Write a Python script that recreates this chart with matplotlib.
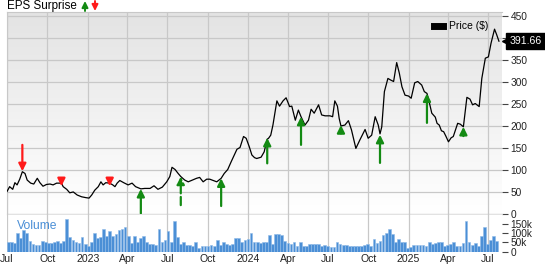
import matplotlib
matplotlib.use('Agg')
import matplotlib.pyplot as plt
import matplotlib.dates as mdates
import numpy as np
import pandas as pd

plt.rcParams['font.family'] = ['Liberation Sans', 'DejaVu Sans']

# price line
price_dates = [
    '2022-07-01', '2022-07-07', '2022-07-14', '2022-07-19', '2022-07-24', '2022-07-30',
    '2022-08-05', '2022-08-11', '2022-08-16', '2022-08-24', '2022-08-31', '2022-09-08',
    '2022-09-14', '2022-09-21', '2022-09-29', '2022-10-07', '2022-10-14', '2022-10-22',
    '2022-11-02', '2022-11-06', '2022-11-14', '2022-11-21', '2022-11-29', '2022-12-08',
    '2022-12-18', '2022-12-28', '2023-01-04', '2023-01-10', '2023-01-17', '2023-01-25',
    '2023-01-31', '2023-02-05', '2023-02-11', '2023-02-20', '2023-02-27', '2023-03-04',
    '2023-03-09', '2023-03-15', '2023-03-24', '2023-04-03', '2023-04-12', '2023-04-20',
    '2023-05-02', '2023-05-11', '2023-05-23', '2023-06-01', '2023-06-10', '2023-06-20',
    '2023-06-30', '2023-07-07', '2023-07-12', '2023-07-19', '2023-07-26', '2023-08-01',
    '2023-08-10', '2023-08-18', '2023-08-25', '2023-09-06', '2023-09-13', '2023-09-21',
    '2023-09-29', '2023-10-06', '2023-10-14', '2023-10-22', '2023-11-01', '2023-11-08',
    '2023-11-16', '2023-11-24', '2023-12-01', '2023-12-07', '2023-12-14', '2023-12-22',
    '2023-12-28', '2024-01-04', '2024-01-10', '2024-01-16', '2024-01-21', '2024-01-31',
    '2024-02-07', '2024-02-14', '2024-02-17', '2024-02-22', '2024-02-27', '2024-03-03',
    '2024-03-07', '2024-03-13', '2024-03-21', '2024-03-28', '2024-04-05', '2024-04-10',
    '2024-04-18', '2024-04-25', '2024-05-01', '2024-05-10', '2024-05-18', '2024-05-24',
    '2024-05-31', '2024-06-10', '2024-06-17', '2024-06-25', '2024-07-06', '2024-07-12',
    '2024-07-17', '2024-07-23', '2024-07-27', '2024-07-31', '2024-08-09', '2024-08-17',
    '2024-08-24', '2024-09-03', '2024-09-12', '2024-09-24', '2024-10-01', '2024-10-09',
    '2024-10-17', '2024-10-24', '2024-10-28', '2024-11-01', '2024-11-07', '2024-11-15',
    '2024-11-22', '2024-11-28', '2024-12-05', '2024-12-11', '2024-12-17', '2024-12-24',
    '2025-01-01', '2025-01-07', '2025-01-15', '2025-01-22', '2025-01-31', '2025-02-06',
    '2025-02-12', '2025-02-17', '2025-02-23', '2025-03-03', '2025-03-07', '2025-03-12',
    '2025-03-17', '2025-03-22', '2025-03-27', '2025-04-02', '2025-04-08', '2025-04-13',
    '2025-04-23', '2025-04-29', '2025-05-06', '2025-05-14', '2025-05-21', '2025-05-27',
    '2025-06-02', '2025-06-11', '2025-06-17', '2025-06-25', '2025-07-02', '2025-07-08',
    '2025-07-16', '2025-07-21', '2025-07-26',
]
prices = [
    50, 61, 55, 70, 65, 78,
    95, 91, 76, 69, 67, 80,
    70, 62, 66, 67, 65, 69,
    69, 61, 55, 47, 49, 42,
    38, 36, 35, 42, 53, 61,
    72, 65, 70, 69, 65, 61,
    69, 75, 70, 65, 69, 61,
    56, 57, 57, 63, 55, 60,
    72, 84, 105, 100, 91, 84,
    76, 72, 75, 80, 82, 72,
    78, 78, 75, 72, 80, 91,
    100, 118, 133, 146, 150, 175,
    171, 152, 133, 127, 125, 128,
    140, 169, 171, 178, 201, 231,
    256, 244, 256, 263, 243, 244,
    212, 235, 220, 201, 212, 237,
    228, 247, 224, 222, 222, 220,
    256, 244, 216, 199, 201, 211,
    190, 148, 167, 191, 171, 178,
    220, 201, 181, 197, 277, 307,
    303, 300, 343, 319, 288, 269,
    267, 262, 297, 300, 292, 277,
    273, 254, 228, 219, 205, 201,
    188, 186, 176, 163, 172, 175,
    205, 203, 197, 264, 260, 247,
    250, 243, 307, 353, 356, 387,
    419, 406, 391.66,
]

# earnings surprise arrows: date, tail price, tip price, beat?, dashed?
eps_dates = ['2022-08-05', '2022-11-02', '2023-02-20', '2023-05-02', '2023-08-01', '2023-11-01',
             '2024-02-14', '2024-05-01', '2024-07-31', '2024-10-28', '2025-02-12', '2025-05-06']
eps_tail = [156, 80, 80, 0, 19, 17, 114, 156, 182, 115, 206, 176]
eps_tip = [96, 62, 62, 56, 84, 80, 172, 220, 201, 179, 273, 197]
eps_beat = [False, False, False, True, True, True, True, True, True, True, True, True]
eps_dashed = [False, False, False, False, True, False, False, False, False, False, False, False]

# weekly volume, thousands
volume_k = [
    54, 54, 47, 100, 75, 118, 100, 59, 41, 36, 36, 59, 50, 47, 47, 54, 59, 47, 59, 175,
    80, 64, 54, 47, 77, 40, 32, 54, 98, 75, 77, 125, 86, 113, 86, 95, 118, 125, 131, 86,
    47, 82, 54, 72, 82, 54, 41, 41, 36, 125, 54, 64, 110, 54, 167, 77, 41, 50, 38, 38,
    29, 50, 20, 29, 29, 29, 36, 29, 64, 38, 50, 41, 38, 41, 72, 72, 54, 64, 68, 98,
    50, 50, 47, 50, 54, 90, 41, 93, 93, 88, 59, 47, 41, 54, 29, 50, 32, 29, 41, 40,
    41, 41, 32, 36, 32, 23, 23, 50, 41, 36, 35, 29, 32, 32, 32, 32, 36, 41, 32, 68,
    47, 59, 90, 100, 125, 95, 50, 68, 50, 50, 18, 27, 36, 38, 38, 36, 32, 54, 41, 47,
    50, 54, 32, 38, 41, 54, 30, 32, 47, 167, 54, 36, 47, 32, 86, 131, 41, 64, 82, 59,
]
volume_start = '2022-07-01'

quarter_ticks = pd.date_range('2022-07-01', '2025-07-01', freq='QS')
quarter_labels = ['Jul', 'Oct', '2023', 'Apr', 'Jul', 'Oct', '2024', 'Apr', 'Jul', 'Oct',
                  '2025', 'Apr', 'Jul']
price_ticks = [0, 50, 100, 150, 200, 250, 300, 350, 400, 450]
# the 400 label sits under the last-price tag
price_tick_labels = ['0', '50', '100', '150', '200', '250', '300', '350', '', '450']

pd_dates = pd.to_datetime(price_dates)
vol_dates = pd.date_range(volume_start, periods=len(volume_k), freq='7D')
vols = np.array(volume_k) * 1000

grid_c = '#c8c8c8'

fig = plt.figure(figsize=(5.45, 2.64), dpi=100)
ax = fig.add_axes([7 / 545, 1 - 213.5 / 264, 495 / 545, 201.5 / 264])
axv = fig.add_axes([7 / 545, 1 - 251.5 / 264, 495 / 545, 37.5 / 264], sharex=ax)

# soft grey-to-white background
grad = np.linspace(0, 1, 256).reshape(-1, 1)
ax.imshow(grad, extent=[0, 1, 0, 1], transform=ax.transAxes, aspect='auto',
          cmap=matplotlib.colors.LinearSegmentedColormap.from_list('bg', ['#e3e3e3', '#ffffff']),
          origin='upper', zorder=0)

ax.plot(pd_dates, prices, color='black', lw=0.9, zorder=3, label='Price ($)')

for d, t0, t1, beat, dashed in zip(eps_dates, eps_tail, eps_tip, eps_beat, eps_dashed):
    col = '#138a13' if beat else '#ff1a1a'
    ax.annotate('', xy=(pd.Timestamp(d), t1), xytext=(pd.Timestamp(d), t0),
                arrowprops=dict(arrowstyle='-|>', color=col, lw=1.6, mutation_scale=11,
                                shrinkA=0, shrinkB=0, linestyle='--' if dashed else '-'),
                zorder=4, annotation_clip=False)

ax.set_ylim(0, 458)
ax.set_xlim(pd.Timestamp('2022-07-01'), pd.Timestamp('2025-08-02'))
ax.set_yticks(price_ticks)
ax.set_yticklabels(price_tick_labels)
ax.yaxis.tick_right()
ax.tick_params(axis='y', length=4, width=0.8, color='#444', labelsize=7.3, pad=2, labelcolor='#222')
ax.tick_params(axis='x', length=0, labelbottom=False)
ax.set_xticks(quarter_ticks)
ax.grid(True, color=grid_c, lw=0.9)
ax.set_axisbelow(True)
for s in ['left', 'top', 'bottom']:
    ax.spines[s].set_color(grid_c)
ax.spines['right'].set_visible(False)

leg = ax.legend(loc='upper right', bbox_to_anchor=(0.985, 0.985), frameon=False, fontsize=7.5,
                handlelength=0.8, handletextpad=0.6, borderaxespad=0.2)
for h in leg.legend_handles:
    h.set_linewidth(5)

# last price tag
last = prices[-1]
ax.plot([1.012], [last], marker='<', ms=8, color='black', transform=ax.get_yaxis_transform(),
        clip_on=False, zorder=6)
ax.annotate(f'{last:.2f}', xy=(1, last), xycoords=ax.get_yaxis_transform(),
            xytext=(5.5, 0), textcoords='offset points', ha='left', va='center',
            color='white', fontsize=7.6, annotation_clip=False, zorder=7,
            bbox=dict(boxstyle='square,pad=0.3', fc='black', ec='black'))

# volume panel
axv.bar(vol_dates, vols, width=6.2, align='edge', color='#4b8fd6', edgecolor='#8fbbe8', lw=0.4)
axv.set_ylim(0, 204000)
axv.axhspan(196000, 204000, color='#e2e2e2', lw=0, zorder=0)
axv.set_yticks([0, 50000, 100000, 150000])
axv.set_yticklabels(['0', '50k', '100k', '150k'])
axv.yaxis.tick_right()
axv.tick_params(axis='y', length=4, width=0.8, color='#444', labelsize=7.3, pad=2, labelcolor='#222')
axv.set_xticks(quarter_ticks)
axv.set_xticklabels(quarter_labels)
axv.tick_params(axis='x', length=0, labelsize=7.6, pad=1.5, labelcolor='#222')
axv.grid(True, axis='x', color=grid_c, lw=0.9)
axv.set_axisbelow(True)
for s in ['left', 'top', 'right', 'bottom']:
    axv.spines[s].set_visible(False)
axv.text(0.02, 0.68, 'Volume', transform=axv.transAxes, color='#4b8fd6', fontsize=8.7,
         va='center', ha='left')

# header
fig.text(7 / 545, 1 - 6 / 264, 'EPS Surprise', fontsize=8.4, va='center', ha='left')
fig.patches.append(matplotlib.patches.FancyArrowPatch(
    (85 / 545, 1 - 11 / 264), (85 / 545, 1 - 1 / 264), transform=fig.transFigure,
    arrowstyle='-|>', mutation_scale=9, color='#138a13', lw=1.4, shrinkA=0, shrinkB=0))
fig.patches.append(matplotlib.patches.FancyArrowPatch(
    (95 / 545, 1 - 1 / 264), (95 / 545, 1 - 11 / 264), transform=fig.transFigure,
    arrowstyle='-|>', mutation_scale=9, color='#ff1a1a', lw=1.4, shrinkA=0, shrinkB=0))

fig.savefig('out.png', dpi=100)
